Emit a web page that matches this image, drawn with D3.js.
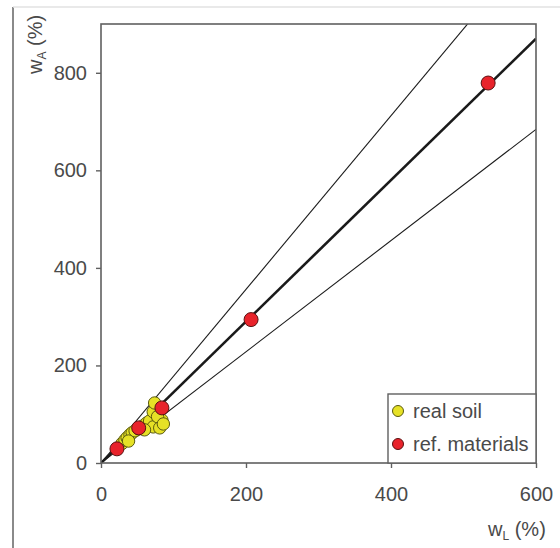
<!DOCTYPE html>
<html><head><meta charset="utf-8">
<script src="https://cdn.jsdelivr.net/npm/d3@7"></script>
<style>body{margin:0;background:#fff}svg{display:block}</style>
</head><body>
<script>
// Data
const soilX = [29, 33, 36, 40, 43, 47, 52, 58, 63, 67, 72, 74, 84, 72, 81, 78, 86, 60, 38];
const soilY = [40, 47, 52, 58, 62, 66, 70, 76, 82, 86, 105, 123, 88, 74, 72, 95, 80, 68, 45];
const refX = [22, 52, 84, 207, 534];
const refY = [29, 72, 113, 294, 779];
const lineSlopes = [1.78, 1.45, 1.14];
const lineWidths = [1.1, 2.6, 1.1];
const xTicks = [0, 200, 400, 600];
const yTicks = [0, 200, 400, 600, 800];
const legendLabels = ["real soil", "ref. materials"];

const W = 560, H = 548;
const m = {left: 101, right: 536, top: 24, bottom: 463};
const svg = d3.select("body").append("svg").attr("width", W).attr("height", H);
const font = "Liberation Sans, Arial, sans-serif";
const textCol = "#4a4a4a";
const fs = 20;

// figure frame
svg.append("line").attr("x1", 13).attr("x2", 13).attr("y1", 7).attr("y2", H).attr("stroke", "#8a8a8a").attr("stroke-width", 2);
svg.append("line").attr("x1", 13).attr("x2", W).attr("y1", 7).attr("y2", 7).attr("stroke", "#e2e2e2").attr("stroke-width", 1.5);

const x = d3.scaleLinear().domain([0, 600]).range([m.left, m.right]);
const y = d3.scaleLinear().domain([0, 900]).range([m.bottom, m.top]);

const defs = svg.append("defs");
defs.append("clipPath").attr("id", "clip").append("rect")
  .attr("x", m.left).attr("y", m.top).attr("width", m.right - m.left).attr("height", m.bottom - m.top);

// lines through origin
const lg = svg.append("g").attr("clip-path", "url(#clip)");
lineSlopes.forEach((s, i) => {
  lg.append("line").attr("x1", x(0)).attr("y1", y(0)).attr("x2", x(600)).attr("y2", y(600 * s))
    .attr("stroke", "#1a1a1a").attr("stroke-width", lineWidths[i]);
});

// frame
svg.append("rect").attr("x", m.left).attr("y", m.top).attr("width", m.right - m.left).attr("height", m.bottom - m.top)
  .attr("fill", "none").attr("stroke", "#606060").attr("stroke-width", 1.6);

// axes
const xAxis = svg.append("g").attr("transform", `translate(0,${m.bottom})`)
  .call(d3.axisBottom(x).tickValues(xTicks).tickSize(5).tickPadding(19).tickFormat(d3.format("d")));
const yAxis = svg.append("g").attr("transform", `translate(${m.left},0)`)
  .call(d3.axisLeft(y).tickValues(yTicks).tickSize(5).tickPadding(9).tickFormat(d3.format("d")));
[xAxis, yAxis].forEach(a => {
  a.select(".domain").remove();
  a.selectAll("line").attr("stroke", "#606060").attr("stroke-width", 1.4);
  a.selectAll("text").attr("font-family", font).attr("font-size", fs).attr("fill", textCol);
});

// points
const pts = svg.append("g");
pts.selectAll("circle.soil").data(soilX.map((d, i) => [d, soilY[i]])).join("circle")
  .attr("class", "soil").attr("cx", d => x(d[0])).attr("cy", d => y(d[1])).attr("r", 6.2)
  .attr("fill", "#e6e126").attr("stroke", "#5a5a10").attr("stroke-width", 1);
pts.selectAll("circle.ref").data(refX.map((d, i) => [d, refY[i]])).join("circle")
  .attr("class", "ref").attr("cx", d => x(d[0])).attr("cy", d => y(d[1])).attr("r", 7)
  .attr("fill", "#e8232b").attr("stroke", "#5a1010").attr("stroke-width", 1);

// legend
const lgX = 388, lgY = 394;
svg.append("rect").attr("x", lgX).attr("y", lgY).attr("width", m.right - lgX).attr("height", m.bottom - lgY)
  .attr("fill", "#fff").attr("stroke", "#606060").attr("stroke-width", 1.4);
const legFill = ["#e6e126", "#e8232b"], legStroke = ["#5a5a10", "#5a1010"];
legendLabels.forEach((t, i) => {
  const cy = lgY + 17 + i * 33;
  svg.append("circle").attr("cx", lgX + 10).attr("cy", cy).attr("r", 5.5)
    .attr("fill", legFill[i]).attr("stroke", legStroke[i]).attr("stroke-width", 1);
  svg.append("text").attr("x", lgX + 25).attr("y", cy + 6.5).text(t)
    .attr("font-family", font).attr("font-size", fs).attr("fill", textCol);
});

// axis titles
const xt = svg.append("text").attr("x", 488).attr("y", 536).attr("text-anchor", "start")
  .attr("font-family", font).attr("font-size", fs).attr("fill", textCol);
xt.append("tspan").text("w");
xt.append("tspan").text("L").attr("font-size", 12).attr("dy", 4);
xt.append("tspan").text(" (%)").attr("dy", -4);

const yt = svg.append("text").attr("transform", "translate(42,74) rotate(-90)")
  .attr("text-anchor", "start").attr("font-family", font).attr("font-size", fs).attr("fill", textCol);
yt.append("tspan").text("w");
yt.append("tspan").text("A").attr("font-size", 12).attr("dy", 4);
yt.append("tspan").text(" (%)").attr("dy", -4);
</script>
</body></html>
